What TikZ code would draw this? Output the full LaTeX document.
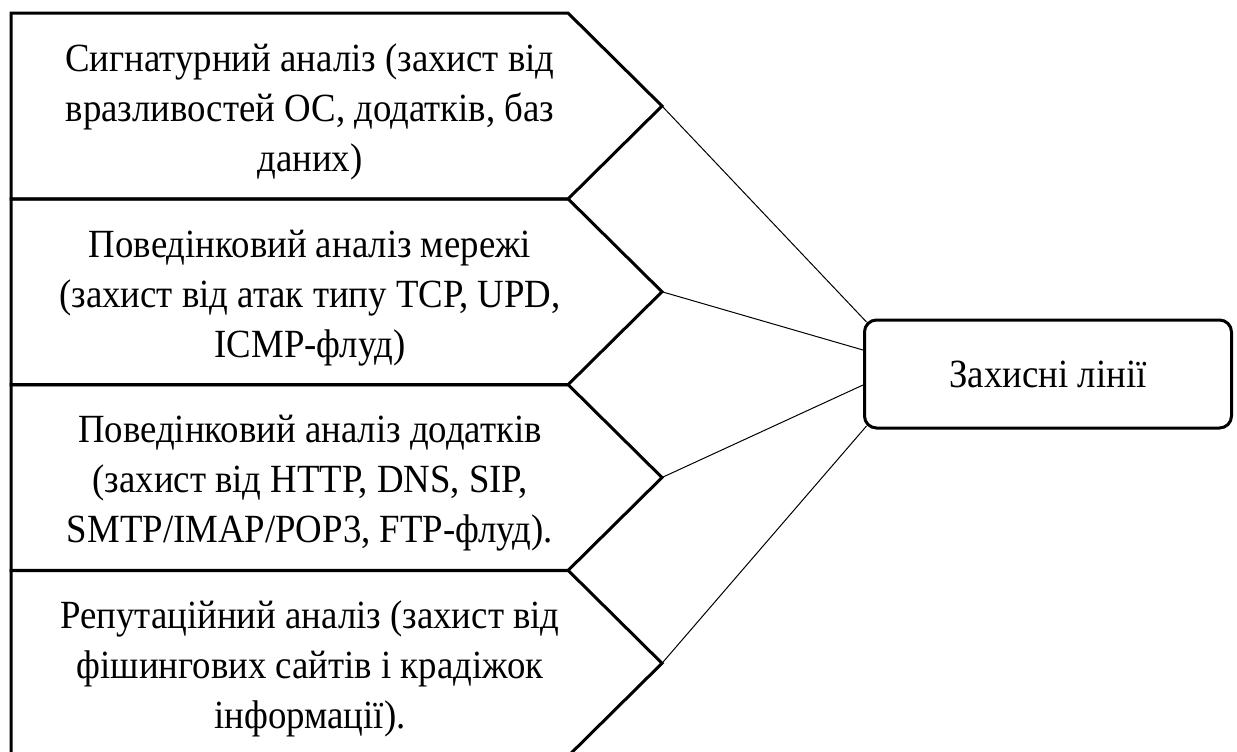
\documentclass[tikz,border=0pt]{standalone}
\usepackage{fontspec}
\setmainfont{Liberation Serif}
\newfontfamily\boxfont{Liberation Serif}[FakeStretch=0.92]
\usetikzlibrary{calc}

\begin{document}
\begin{tikzpicture}[
    x=0.5pt,y=-0.5pt,
    every node/.style={font=\boxfont\fontsize{20}{25}\selectfont},
    lvl/.style={draw,line width=1.5pt,line join=miter},
    txt/.style={align=center,inner sep=0pt},
    hub/.style={draw,line width=1.5pt,rounded corners=6pt,
                minimum width=183.5pt,minimum height=54pt},
    lnk/.style={line width=0.5pt}
  ]
  \useasboundingbox (0,0) rectangle (1237,751);
  \begin{scope}
    \clip (0,0) rectangle (1237,751);
    \foreach \i/\lbl in {
        1/{Сигнатурний аналіз (захист від\\вразливостей ОС, додатків, баз\\даних)},
        2/{Поведінковий аналіз мережі\\(захист від атак типу TCP, UPD,\\ICMP-флуд)},
        3/{Поведінковий аналіз додатків\\(захист від HTTP, DNS, SIP,\\SMTP/IMAP/POP3, FTP-флуд).},
        4/{Репутаційний аналіз (захист від\\фішингових сайтів і крадіжок\\інформації).}}{
      \pgfmathsetmacro\ya{13+185.75*(\i-1)}
      \draw[lvl] (11,\ya) -- (568,\ya) -- (662,\ya+93) -- (568,\ya+186)
                 -- (11,\ya+186) -- cycle;
      \node[txt] (line\i) at (310,\ya+99) {\lbl};
      \coordinate (tip\i) at (662,\ya+93);
    }
  \end{scope}

  \node[hub] (hub) at (1048,374) {Захисні лінії};

  \draw[lnk] (tip1) -- ([shift={(3.5,3.5)}]hub.north west);
  \draw[lnk] (tip2) -- ([yshift=12pt]hub.west);
  \draw[lnk] (tip3) -- ([yshift=-5.5pt]hub.west);
  \draw[lnk] (tip4) -- ([shift={(3.5,-3.5)}]hub.south west);
\end{tikzpicture}
\end{document}
